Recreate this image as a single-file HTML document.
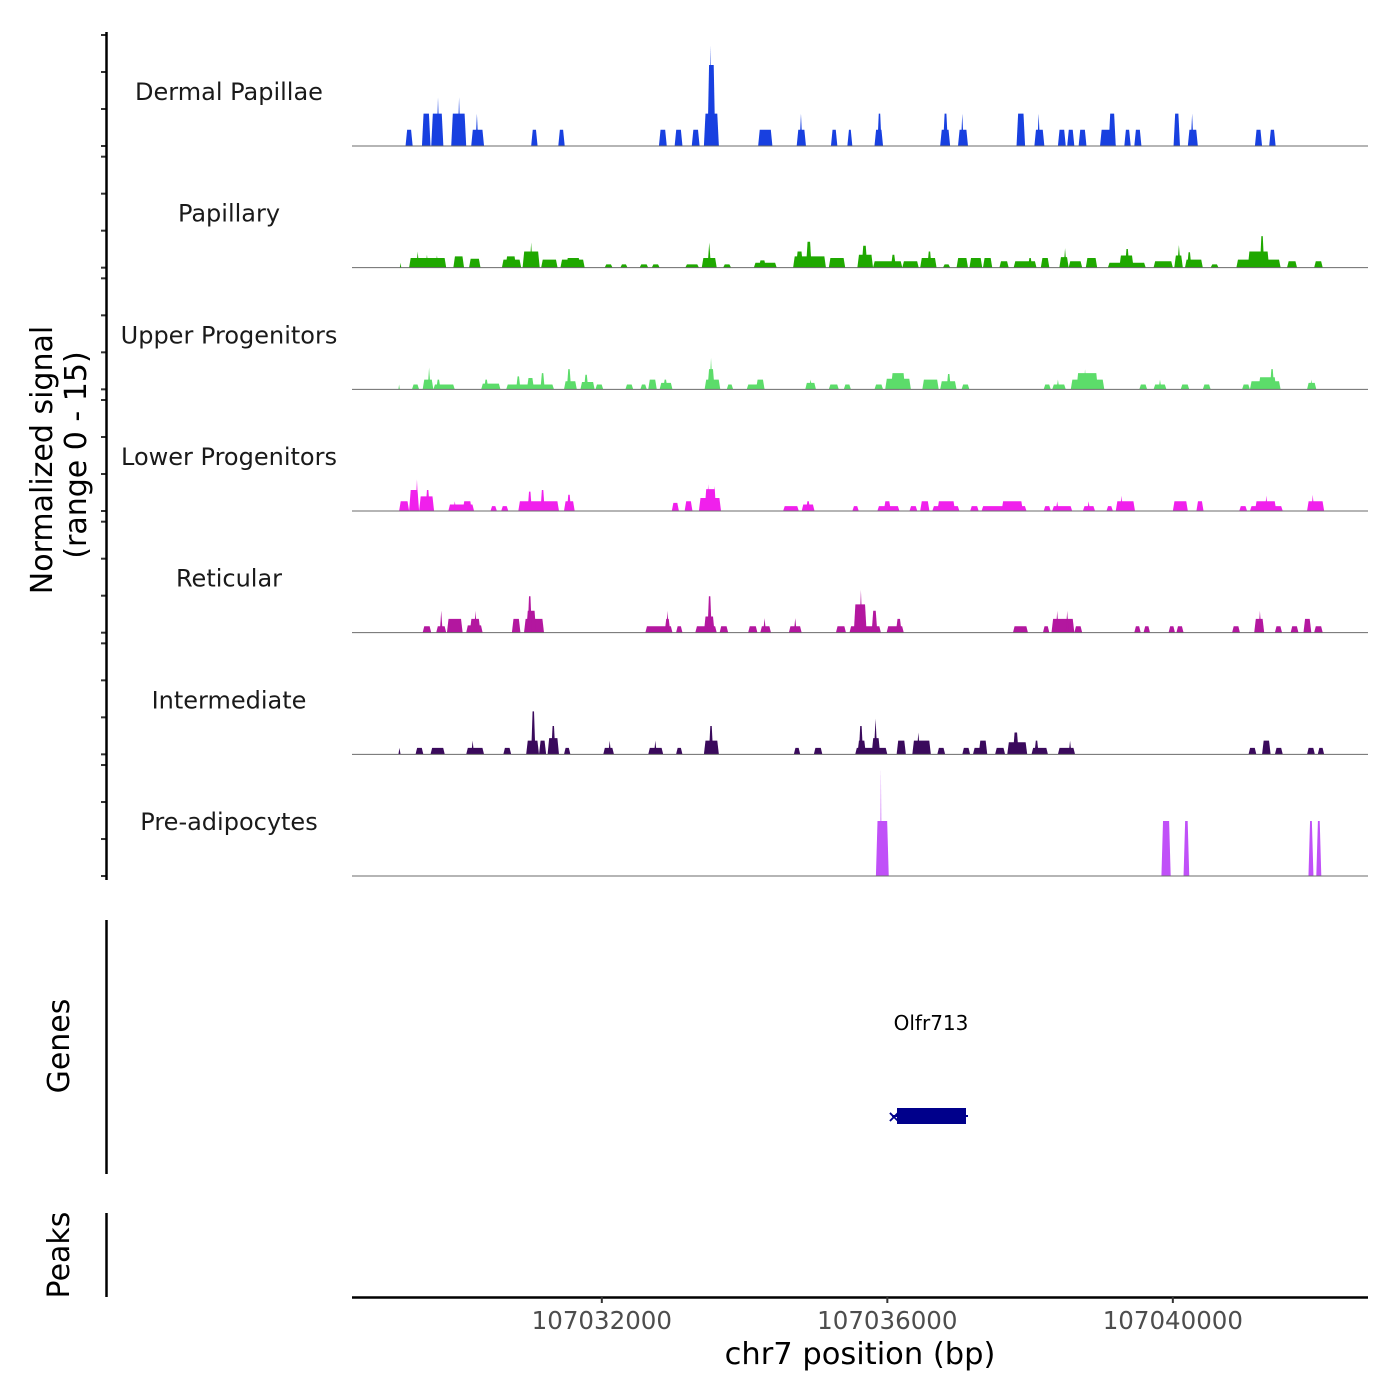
<!DOCTYPE html>
<html><head><meta charset="utf-8"><style>
html,body{margin:0;padding:0;background:#fff;}
svg{display:block;font-family:"DejaVu Sans","Liberation Sans",sans-serif;}
</style></head><body>
<svg id="chart" width="1400" height="1400" viewBox="0 0 1400 1400" xmlns="http://www.w3.org/2000/svg">
<rect width="1400" height="1400" fill="#fff"/>
<g id="tracks"></g>
<g id="axes"></g>
<text transform="translate(52,460) rotate(-90)" text-anchor="middle" font-size="30" fill="#000">Normalized signal</text>
<text transform="translate(86,455) rotate(-90)" text-anchor="middle" font-size="30" fill="#000">(range 0 - 15)</text>
<text transform="translate(69,1046) rotate(-90)" text-anchor="middle" font-size="30" fill="#000">Genes</text>
<text transform="translate(69,1255) rotate(-90)" text-anchor="middle" font-size="30" fill="#000">Peaks</text>
<text x="860" y="1364" text-anchor="middle" font-size="30.5" fill="#000">chr7 position (bp)</text>
<g>
<text x="931" y="1030" text-anchor="middle" font-size="20" fill="#000">Olfr713</text>
<line x1="892" y1="1116" x2="968" y2="1116" stroke="#00008b" stroke-width="2"/>
<rect x="897" y="1108" width="69" height="16" fill="#00008b"/>
<text x="894" y="1122" text-anchor="middle" font-size="16" fill="#00008b" font-weight="bold">×</text>
</g>
</svg>
<script>
const REGION_START = 107028500;
const TRACK_NAMES = ["Dermal Papillae","Papillary","Upper Progenitors","Lower Progenitors","Reticular","Intermediate","Pre-adipocytes"];
const TRACK_COLORS = ["#1840e0","#1fa800","#5cdc6a","#f020ec","#b3179f","#3a0a5c","#c050f8"];
const X_TICKS = [107032000,107036000,107040000];
// peaks: [startKb, endKb, signal] (kb offset from REGION_START)
const dermalPapillae = [[0.75,0.85,2],[0.98,1.10,4],[1.11,1.28,4],[1.185,1.225,6],[1.39,1.60,4],[1.48,1.52,6],[1.67,1.85,2],[1.73,1.77,4],[2.51,2.60,2],[2.89,2.98,2],[4.30,4.41,2],[4.52,4.63,2],[4.76,4.87,2],[4.93,5.14,4],[4.98,5.09,10],[5.00,5.04,12.4],[5.69,5.89,2],[6.23,6.36,2],[6.27,6.31,4],[6.71,6.80,2],[6.94,7.01,2],[7.32,7.44,2],[7.36,7.42,4],[8.24,8.38,2],[8.28,8.35,4],[8.49,8.63,2],[8.53,8.57,4],[9.31,9.43,4],[9.56,9.70,2],[9.60,9.64,4],[9.89,10.0,2],[10.02,10.12,2],[10.18,10.29,2],[10.48,10.70,2],[10.60,10.70,4],[10.82,10.91,2],[10.96,11.06,2],[11.51,11.60,4],[11.71,11.85,2],[11.75,11.79,4],[12.65,12.75,2],[12.85,12.94,2]];
const papillary = [[0.67,0.69,0.6],[0.80,1.32,1.2],[0.90,0.94,2.0],[1.03,1.07,1.6],[1.17,1.21,1.5],[1.42,1.57,1.4],[1.64,1.80,1.1],[2.10,2.37,1.0],[2.15,2.30,1.4],[2.39,2.63,2.0],[2.49,2.53,3.1],[2.65,2.88,1.0],[2.92,3.26,1.0],[3.00,3.20,1.2],[3.54,3.65,0.4],[3.76,3.86,0.4],[4.03,4.15,0.4],[4.20,4.31,0.4],[4.67,4.86,0.4],[4.90,5.11,1.2],[4.98,5.03,3.1],[5.20,5.31,0.4],[5.63,5.95,0.6],[5.70,5.80,0.9],[6.18,6.64,1.4],[6.22,6.32,2.0],[6.36,6.44,3.2],[6.68,6.91,1.2],[7.08,7.30,1.6],[7.14,7.22,2.7],[7.30,7.71,0.8],[7.55,7.62,1.6],[7.71,7.94,0.8],[7.96,8.19,1.2],[8.06,8.12,2.0],[8.28,8.38,0.4],[8.47,8.63,1.2],[8.65,8.83,1.2],[8.84,8.97,1.2],[9.07,9.20,0.8],[9.27,9.59,0.8],[9.47,9.53,1.2],[9.65,9.77,1.2],[9.91,10.04,1.3],[9.97,10.01,2.4],[10.04,10.23,0.8],[10.28,10.44,1.2],[10.59,11.12,0.6],[10.75,10.95,1.5],[10.83,10.89,2.3],[11.23,11.50,0.8],[11.52,11.64,1.5],[11.56,11.61,2.8],[11.67,11.92,1.0],[11.70,11.76,1.9],[12.03,12.14,0.4],[12.39,13.01,1.0],[12.55,12.85,2.0],[12.72,12.78,3.9],[13.10,13.24,0.8],[13.48,13.60,0.8]];
const upperProgenitors = [[0.65,0.67,0.6],[0.84,0.94,0.6],[0.99,1.14,1.2],[1.06,1.10,2.7],[1.14,1.44,0.6],[1.18,1.24,1.2],[1.81,2.08,0.7],[1.85,1.91,1.2],[2.16,2.83,0.6],[2.30,2.36,1.6],[2.45,2.55,1.4],[2.64,2.70,2.0],[2.97,3.15,1.0],[3.01,3.07,2.5],[3.20,3.40,0.9],[3.25,3.31,1.8],[3.41,3.52,0.6],[3.83,3.94,0.6],[4.04,4.13,0.6],[4.15,4.27,1.2],[4.31,4.49,0.8],[4.36,4.42,1.2],[4.94,5.16,1.2],[4.98,5.08,2.5],[5.01,5.05,3.9],[5.25,5.34,0.6],[5.53,5.78,0.6],[5.66,5.78,1.2],[6.35,6.50,0.8],[6.40,6.45,1.2],[6.68,6.82,0.6],[6.89,6.99,0.6],[7.32,7.44,0.6],[7.47,7.83,1.3],[7.55,7.75,2.0],[7.99,8.22,1.2],[8.24,8.47,1.0],[8.33,8.39,1.9],[8.54,8.65,0.6],[9.69,9.79,0.6],[9.81,10.0,0.6],[9.87,9.91,1.2],[10.07,10.54,1.2],[10.15,10.45,2.0],[10.25,10.29,2.5],[11.03,11.14,0.6],[11.23,11.41,0.6],[11.30,11.34,1.2],[11.61,11.73,0.6],[11.92,12.03,0.6],[12.47,12.58,0.6],[12.58,13.01,1.0],[12.70,12.95,1.5],[12.86,12.92,2.5],[13.38,13.51,0.8],[13.42,13.46,1.2]];
const lowerProgenitors = [[0.66,0.80,1.2],[0.80,0.94,2.6],[0.89,0.93,3.9],[0.94,1.15,1.8],[1.03,1.09,2.6],[1.35,1.71,0.8],[1.42,1.46,1.2],[1.55,1.68,1.2],[1.94,2.03,0.6],[2.09,2.19,0.6],[2.33,2.90,1.2],[2.46,2.52,2.4],[2.64,2.70,2.6],[2.97,3.12,1.2],[3.01,3.07,2.0],[4.48,4.58,1.0],[4.66,4.77,1.2],[4.86,5.17,1.6],[4.94,5.10,2.7],[4.97,5.01,3.3],[5.06,5.10,3.1],[6.04,6.26,0.6],[6.30,6.48,0.8],[6.36,6.42,1.2],[7.01,7.10,0.6],[7.36,7.67,0.6],[7.45,7.55,1.2],[7.81,7.92,0.6],[7.96,8.09,1.2],[8.13,8.51,0.6],[8.20,8.45,1.2],[8.66,8.78,0.6],[8.82,9.45,0.6],[9.10,9.40,1.2],[9.69,9.79,0.6],[9.81,10.09,0.6],[9.86,9.90,1.2],[10.24,10.41,0.6],[10.30,10.34,1.2],[10.57,10.66,0.6],[10.70,10.97,1.2],[10.76,10.80,1.9],[11.50,11.71,1.2],[11.83,11.93,1.2],[12.43,12.54,0.6],[12.58,13.04,0.6],[12.65,12.95,1.2],[12.79,12.83,1.9],[13.38,13.62,1.2],[13.44,13.48,2.0]];
const reticular = [[0.99,1.11,0.8],[1.18,1.32,0.8],[1.23,1.27,2.7],[1.33,1.55,1.7],[1.60,1.83,0.9],[1.65,1.80,1.7],[1.71,1.75,2.7],[2.24,2.36,1.7],[2.41,2.69,1.7],[2.44,2.58,2.7],[2.46,2.52,4.5],[4.11,4.49,0.8],[4.38,4.46,1.7],[4.40,4.44,2.7],[4.54,4.63,0.8],[4.81,5.11,0.8],[4.93,5.08,2.0],[4.98,5.04,4.5],[5.15,5.27,0.8],[5.55,5.68,0.8],[5.72,5.87,0.8],[5.76,5.80,1.8],[6.12,6.30,0.8],[6.19,6.23,1.8],[6.78,6.92,0.8],[6.97,7.41,0.8],[7.03,7.21,3.5],[7.11,7.15,5.3],[7.28,7.36,2.7],[7.49,7.73,0.8],[7.62,7.70,1.7],[9.26,9.47,0.8],[9.68,9.77,0.8],[9.80,10.12,1.7],[9.86,9.90,2.7],[10.00,10.04,2.7],[10.12,10.23,0.8],[10.96,11.05,0.8],[11.09,11.18,0.8],[11.44,11.53,0.8],[11.55,11.65,0.8],[12.33,12.44,0.8],[12.64,12.78,1.7],[12.70,12.74,2.7],[12.93,13.03,0.8],[13.15,13.26,0.8],[13.33,13.44,1.7],[13.48,13.60,0.8]];
const intermediate = [[0.65,0.68,0.8],[0.89,1.00,0.8],[1.10,1.30,0.8],[1.60,1.85,0.8],[1.67,1.71,1.7],[2.12,2.23,0.8],[2.44,2.62,1.7],[2.51,2.57,5.3],[2.62,2.72,1.7],[2.74,2.90,2.0],[2.79,2.85,3.5],[2.97,3.06,0.8],[3.52,3.67,0.8],[3.59,3.63,1.7],[4.15,4.36,0.8],[4.23,4.27,1.7],[4.54,4.63,0.8],[4.93,5.14,1.7],[5.00,5.06,3.5],[6.19,6.28,0.8],[6.47,6.59,0.8],[7.05,7.50,0.8],[7.08,7.20,1.7],[7.10,7.16,3.5],[7.28,7.40,2.0],[7.31,7.36,4.4],[7.63,7.76,1.7],[7.85,8.11,1.7],[7.91,7.96,2.7],[8.20,8.31,0.8],[8.55,8.66,0.8],[8.70,8.90,0.8],[8.78,8.90,1.7],[9.01,9.15,0.8],[9.18,9.46,1.5],[9.26,9.34,2.7],[9.52,9.75,0.8],[9.56,9.62,1.7],[9.89,10.13,0.8],[10.04,10.08,1.7],[12.56,12.67,0.8],[12.75,12.87,1.7],[12.93,13.04,0.8],[13.38,13.49,0.8],[13.53,13.62,0.8]];
const preAdipocytes = [[7.34,7.52,6.8],[7.40,7.42,13.3],[11.34,11.47,6.8],[11.65,11.73,6.8],[13.40,13.47,6.8],[13.51,13.58,6.8]];
const TRACK_DATA = [dermalPapillae,papillary,upperProgenitors,lowerProgenitors,reticular,intermediate,preAdipocytes];

const NS = "http://www.w3.org/2000/svg";
const X0 = 352, X1 = 1368, BP_PER_PX = 14.01;
const TRACK_BASE0 = 146, TRACK_PITCH = 121.67, PX_PER_UNIT = 8.1, TRACK_H = 111;
function xScale(bp){ return X0 + (bp - REGION_START) / BP_PER_PX; }
function kbToX(kb){ return xScale(REGION_START + kb * 1000); }
function yScale(track, v){ return TRACK_BASE0 + track * TRACK_PITCH - v * PX_PER_UNIT; }
function mk(tag, attrs){ const e = document.createElementNS(NS, tag); for (const k in attrs) e.setAttribute(k, attrs[k]); return e; }

const tracksG = document.getElementById('tracks');
const axesG = document.getElementById('axes');
TRACK_NAMES.forEach((name, i) => {
  const g = mk('g', {});
  
  
  const base = yScale(i, 0);
  TRACK_DATA[i].forEach(p => {
    const xa = kbToX(p[0]), xb = kbToX(p[1]), yt = yScale(i, p[2]);
    let pts;
    if (xb - xa < 4) pts = `${xa},${base} ${(xa+xb)/2},${yt} ${xb},${base}`;
    else { const s = Math.min(1.6, (xb-xa)/3); pts = `${xa},${base} ${xa+s},${yt} ${xb-s},${yt} ${xb},${base}`; }
    const poly = mk('polygon', {points: pts, fill: TRACK_COLORS[i]});
    
    
    g.appendChild(poly);
  });
  const bl = mk('line', {x1: X0, x2: X1, y1: base, y2: base, stroke: '#6b6b6b', 'stroke-width': 1});
  
  
  g.appendChild(bl);
  const lab = mk('text', {x: 229, y: base - 46, 'text-anchor': 'middle', 'font-size': 24, fill: '#1a1a1a'});
  lab.textContent = name;
  
  
  g.appendChild(lab);
  tracksG.appendChild(g);
  [0, 1/3, 2/3, 1].forEach(f => {
    const ty = base - f * TRACK_H;
    const t = mk('line', {x1: 101, x2: 107, y1: ty, y2: ty, stroke: '#333', 'stroke-width': 2});
    
    
    axesG.appendChild(t);
  });
});
function addLine(name, x1, y1, x2, y2, w){
  const l = mk('line', {x1, y1, x2, y2, stroke: '#000', 'stroke-width': w});
  
  
  axesG.appendChild(l);
}
addLine('signal-y-axis', 106.5, 32, 106.5, 880, 2.5);
addLine('genes-y-axis', 106.5, 920, 106.5, 1174, 2.5);
addLine('peaks-y-axis', 106.5, 1213, 106.5, 1297, 2.5);
addLine('x-axis-line', 352, 1297.5, 1368, 1297.5, 2.5);
X_TICKS.forEach(v => {
  const x = xScale(v);
  const t = mk('line', {x1: x, x2: x, y1: 1297, y2: 1303, stroke: '#333', 'stroke-width': 2});
  
  
  axesG.appendChild(t);
  const lb = mk('text', {x: x, y: 1329, 'text-anchor': 'middle', 'font-size': 24.5, fill: '#4d4d4d'});
  lb.textContent = String(v);
  
  
  axesG.appendChild(lb);
});
</script>
</body></html>
